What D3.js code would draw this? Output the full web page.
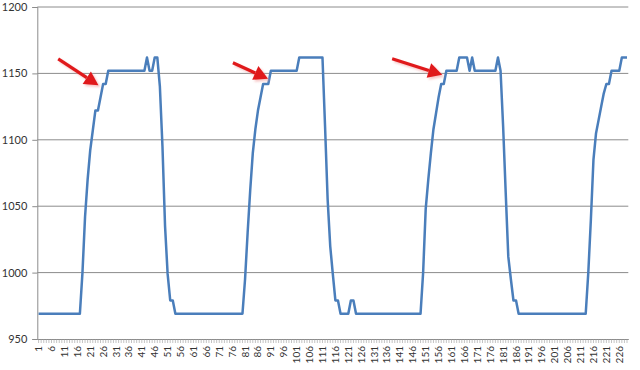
<!DOCTYPE html>
<html>
<head>
<meta charset="utf-8">
<script src="https://cdn.jsdelivr.net/npm/d3@7"></script>
<style>
body { margin: 0; background: #fff; }
svg { display: block; font-family: Lato, "Liberation Sans", sans-serif; }
</style>
</head>
<body>
<script>
// samples 1..229 along the category axis
var days = d3.range(1, 230);

var values = [
    969,969,969,969,969,969,969,969,969,969,969,969,969,969,969,969,969,
    1000,1042,1070,1092,1107,1122,1122,1132,1142,1142,
    1152,1152,1152,1152,1152,1152,1152,1152,1152,1152,1152,1152,1152,1152,1152,
    1162,1152,1152,1162,1162,1140,1095,1035,999,979,979,
    969,969,969,969,969,969,969,969,969,969,969,969,969,969,969,969,969,969,969,969,969,969,969,969,969,969,969,
    995,1030,1062,1090,1108,1122,1132,1142,1142,1142,
    1152,1152,1152,1152,1152,1152,1152,1152,1152,1152,1152,
    1162,1162,1162,1162,1162,1162,1162,1162,1162,1162,
    1110,1055,1020,999,979,979,
    969,969,969,969,
    979,979,
    969,969,969,969,969,969,969,969,969,969,969,969,969,969,969,969,969,969,969,969,969,969,969,969,969,969,
    1000,1048,1070,1090,1108,1120,1132,1142,1142,
    1152,1152,1152,1152,1152,
    1162,1162,1162,1162,
    1152,1162,
    1152,1152,1152,1152,1152,1152,1152,1152,1152,
    1162,1152,1110,1060,1012,995,979,979,
    969,969,969,969,969,969,969,969,969,969,969,969,969,969,969,969,969,969,969,969,969,969,969,969,969,969,969,
    1000,1040,1085,1105,1115,1125,1135,1142,1142,
    1152,1152,1152,1152,
    1162,1162,1162
];

var yTicks = [950, 1000, 1050, 1100, 1150, 1200];
var xTickLabels = days.filter(function (d) { return d % 5 == 1; });

// red call-out arrows, [day, value] of tail and tip
var arrows = [
    {from: [8.6, 1161], to: [24.2, 1141]},
    {from: [76.3, 1158], to: [89.9, 1146]},
    {from: [138, 1161], to: [157.4, 1149]}
];

var W = 640, H = 370;
var plotL = 37.3, plotR = 628.3, plotT = 7, plotB = 339;

var svg = d3.select("body").append("svg").attr("width", W).attr("height", H);
svg.append("rect").attr("width", W).attr("height", H).attr("fill", "#fff");

var x = d3.scaleBand().domain(days).range([plotL, plotR]).padding(0);
var y = d3.scaleLinear().domain([950, 1200]).range([plotB, plotT]);
function xAt(d) { return x(1) + x.bandwidth() / 2 + (d - 1) * x.step(); }

// gridlines
svg.append("g").selectAll("line").data(yTicks.slice(1)).enter().append("line")
    .attr("x1", plotL).attr("x2", plotR)
    .attr("y1", function (d) { return y(d); })
    .attr("y2", function (d) { return y(d); })
    .attr("stroke", "#8c8c8c").attr("stroke-width", 1);

// y axis
var yAxis = svg.append("g").attr("transform", "translate(" + plotL + ",0)")
    .call(d3.axisLeft(y).tickValues(yTicks).tickSize(5).tickPadding(5).tickFormat(d3.format("d")));
yAxis.select(".domain").attr("stroke", "#8c8c8c");
yAxis.selectAll(".tick line").attr("stroke", "#8c8c8c");
yAxis.selectAll("text").attr("font-size", 11).attr("fill", "#333").attr("font-family", "Lato, sans-serif");

// x axis
var xAxis = svg.append("g").attr("transform", "translate(0," + plotB + ")")
    .call(d3.axisBottom(x).tickValues(days).tickSize(4).tickSizeOuter(0)
        .tickFormat(function (d) { return xTickLabels.indexOf(d) >= 0 ? d : ""; }));
xAxis.select(".domain").attr("stroke", "#8c8c8c");
xAxis.selectAll(".tick line").attr("stroke", "#9a9a9a").attr("stroke-width", 0.6);
xAxis.selectAll("text")
    .attr("font-size", 10).attr("fill", "#333").attr("font-family", "Lato, sans-serif")
    .attr("text-anchor", "end")
    .attr("transform", "rotate(-90)")
    .attr("x", -7).attr("y", 0).attr("dy", "0.35em");

// the series
var line = d3.line()
    .x(function (d, i) { return x(days[i]) + x.bandwidth() / 2; })
    .y(function (d) { return y(d); });
svg.append("path").datum(values)
    .attr("d", line)
    .attr("fill", "none")
    .attr("stroke", "#4a7ebb")
    .attr("stroke-width", 2.5)
    .attr("stroke-linejoin", "round");

// arrows
var defs = svg.append("defs");
defs.append("filter").attr("id", "sh").attr("x", "-20%").attr("y", "-20%").attr("width", "140%").attr("height", "140%")
    .append("feGaussianBlur").attr("stdDeviation", 1.2);

arrows.forEach(function (a) {
    var x0 = xAt(a.from[0]), y0 = y(a.from[1]);
    var x1 = xAt(a.to[0]), y1 = y(a.to[1]);
    var ang = Math.atan2(y1 - y0, x1 - x0);
    var hl = 14, hw = 7.5;
    var bx = x1 - hl * Math.cos(ang), by = y1 - hl * Math.sin(ang);
    var px = -Math.sin(ang), py = Math.cos(ang);
    var head = [[x1, y1], [bx + px * hw, by + py * hw], [bx - px * hw, by - py * hw]];
    var g = svg.append("g");
    [["#f2a0a0", "url(#sh)", 2], ["#e0191b", null, 0]].forEach(function (s) {
        var gg = g.append("g").attr("transform", "translate(" + s[2] + "," + s[2] + ")");
        if (s[1]) gg.attr("filter", s[1]).attr("opacity", 0.6);
        gg.append("line").attr("x1", x0).attr("y1", y0).attr("x2", bx).attr("y2", by)
            .attr("stroke", s[0]).attr("stroke-width", 3.2);
        gg.append("polygon").attr("points", head.map(function (p) { return p.join(","); }).join(" "))
            .attr("fill", s[0]);
    });
});
</script>
</body>
</html>
